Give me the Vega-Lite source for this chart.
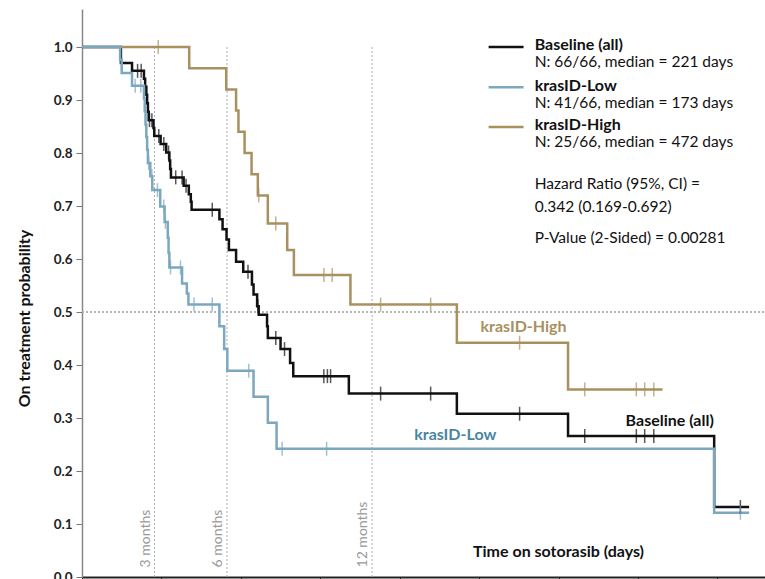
{
  "$schema": "https://vega.github.io/schema/vega-lite/v6.json",
  "width": 683,
  "height": 568,
  "autosize": {"type": "none"},
  "padding": {"left": 82, "top": 9, "right": 0, "bottom": 2},
  "config": {"font": "Lato", "view": {"stroke": null}, "axis": {"grid": false}},
  "datasets": {
    "km": [
      {"g": "Baseline (all)", "t": 0, "s": 1.0},
      {"g": "Baseline (all)", "t": 49, "s": 0.97},
      {"g": "Baseline (all)", "t": 63, "s": 0.955},
      {"g": "Baseline (all)", "t": 78, "s": 0.94},
      {"g": "Baseline (all)", "t": 79.5, "s": 0.925},
      {"g": "Baseline (all)", "t": 81, "s": 0.91},
      {"g": "Baseline (all)", "t": 82, "s": 0.894},
      {"g": "Baseline (all)", "t": 83, "s": 0.878},
      {"g": "Baseline (all)", "t": 84, "s": 0.862},
      {"g": "Baseline (all)", "t": 90, "s": 0.847},
      {"g": "Baseline (all)", "t": 91, "s": 0.832},
      {"g": "Baseline (all)", "t": 99, "s": 0.817},
      {"g": "Baseline (all)", "t": 106, "s": 0.801},
      {"g": "Baseline (all)", "t": 110, "s": 0.786},
      {"g": "Baseline (all)", "t": 111, "s": 0.77},
      {"g": "Baseline (all)", "t": 112, "s": 0.754},
      {"g": "Baseline (all)", "t": 128, "s": 0.738},
      {"g": "Baseline (all)", "t": 134.5, "s": 0.722},
      {"g": "Baseline (all)", "t": 137, "s": 0.708},
      {"g": "Baseline (all)", "t": 138, "s": 0.693},
      {"g": "Baseline (all)", "t": 173, "s": 0.675},
      {"g": "Baseline (all)", "t": 177, "s": 0.656},
      {"g": "Baseline (all)", "t": 182, "s": 0.637},
      {"g": "Baseline (all)", "t": 185, "s": 0.617},
      {"g": "Baseline (all)", "t": 194, "s": 0.595},
      {"g": "Baseline (all)", "t": 203, "s": 0.576},
      {"g": "Baseline (all)", "t": 214, "s": 0.552},
      {"g": "Baseline (all)", "t": 216, "s": 0.533},
      {"g": "Baseline (all)", "t": 220.5, "s": 0.511},
      {"g": "Baseline (all)", "t": 222.5, "s": 0.495},
      {"g": "Baseline (all)", "t": 233, "s": 0.473},
      {"g": "Baseline (all)", "t": 234, "s": 0.451},
      {"g": "Baseline (all)", "t": 250, "s": 0.43},
      {"g": "Baseline (all)", "t": 262, "s": 0.404},
      {"g": "Baseline (all)", "t": 266, "s": 0.379},
      {"g": "Baseline (all)", "t": 336, "s": 0.346},
      {"g": "Baseline (all)", "t": 472, "s": 0.308},
      {"g": "Baseline (all)", "t": 612, "s": 0.266},
      {"g": "Baseline (all)", "t": 796, "s": 0.132},
      {"g": "Baseline (all)", "t": 840, "s": 0.132},
      {"g": "krasID-High", "t": 0, "s": 1.0},
      {"g": "krasID-High", "t": 135, "s": 0.96},
      {"g": "krasID-High", "t": 181.6, "s": 0.92},
      {"g": "krasID-High", "t": 194, "s": 0.88},
      {"g": "krasID-High", "t": 197, "s": 0.84},
      {"g": "krasID-High", "t": 204.7, "s": 0.8},
      {"g": "krasID-High", "t": 213.5, "s": 0.76},
      {"g": "krasID-High", "t": 221.4, "s": 0.72},
      {"g": "krasID-High", "t": 234, "s": 0.667},
      {"g": "krasID-High", "t": 258.4, "s": 0.617},
      {"g": "krasID-High", "t": 266.8, "s": 0.57},
      {"g": "krasID-High", "t": 338, "s": 0.514},
      {"g": "krasID-High", "t": 472, "s": 0.442},
      {"g": "krasID-High", "t": 612, "s": 0.354},
      {"g": "krasID-High", "t": 731, "s": 0.354},
      {"g": "krasID-Low", "t": 0, "s": 1.0},
      {"g": "krasID-Low", "t": 48, "s": 0.976},
      {"g": "krasID-Low", "t": 50, "s": 0.951},
      {"g": "krasID-Low", "t": 63, "s": 0.927},
      {"g": "krasID-Low", "t": 78, "s": 0.903},
      {"g": "krasID-Low", "t": 79, "s": 0.879},
      {"g": "krasID-Low", "t": 80, "s": 0.854},
      {"g": "krasID-Low", "t": 81, "s": 0.83},
      {"g": "krasID-Low", "t": 82, "s": 0.806},
      {"g": "krasID-Low", "t": 83, "s": 0.781},
      {"g": "krasID-Low", "t": 86, "s": 0.756},
      {"g": "krasID-Low", "t": 88.5, "s": 0.73},
      {"g": "krasID-Low", "t": 98.5, "s": 0.699},
      {"g": "krasID-Low", "t": 104, "s": 0.67},
      {"g": "krasID-Low", "t": 108, "s": 0.64},
      {"g": "krasID-Low", "t": 109, "s": 0.612},
      {"g": "krasID-Low", "t": 110, "s": 0.584},
      {"g": "krasID-Low", "t": 126, "s": 0.554},
      {"g": "krasID-Low", "t": 132, "s": 0.535},
      {"g": "krasID-Low", "t": 134, "s": 0.514},
      {"g": "krasID-Low", "t": 173, "s": 0.473},
      {"g": "krasID-Low", "t": 179, "s": 0.43},
      {"g": "krasID-Low", "t": 183, "s": 0.389},
      {"g": "krasID-Low", "t": 216, "s": 0.34},
      {"g": "krasID-Low", "t": 234, "s": 0.291},
      {"g": "krasID-Low", "t": 245, "s": 0.242},
      {"g": "krasID-Low", "t": 796, "s": 0.121},
      {"g": "krasID-Low", "t": 840, "s": 0.121}
    ],
    "cens": [
      {"g": "Baseline (all)", "t": 70, "s": 0.955},
      {"g": "Baseline (all)", "t": 74.5, "s": 0.955},
      {"g": "Baseline (all)", "t": 85, "s": 0.862},
      {"g": "Baseline (all)", "t": 88, "s": 0.862},
      {"g": "Baseline (all)", "t": 96.7, "s": 0.832},
      {"g": "Baseline (all)", "t": 103, "s": 0.817},
      {"g": "Baseline (all)", "t": 109, "s": 0.801},
      {"g": "Baseline (all)", "t": 118, "s": 0.754},
      {"g": "Baseline (all)", "t": 126, "s": 0.754},
      {"g": "Baseline (all)", "t": 131, "s": 0.738},
      {"g": "Baseline (all)", "t": 164, "s": 0.693},
      {"g": "Baseline (all)", "t": 209, "s": 0.576},
      {"g": "Baseline (all)", "t": 221.5, "s": 0.511},
      {"g": "Baseline (all)", "t": 244, "s": 0.451},
      {"g": "Baseline (all)", "t": 255, "s": 0.43},
      {"g": "Baseline (all)", "t": 304.5, "s": 0.379},
      {"g": "Baseline (all)", "t": 309, "s": 0.379},
      {"g": "Baseline (all)", "t": 313, "s": 0.379},
      {"g": "Baseline (all)", "t": 376, "s": 0.346},
      {"g": "Baseline (all)", "t": 439, "s": 0.346},
      {"g": "Baseline (all)", "t": 551, "s": 0.308},
      {"g": "Baseline (all)", "t": 633, "s": 0.266},
      {"g": "Baseline (all)", "t": 698, "s": 0.266},
      {"g": "Baseline (all)", "t": 708.5, "s": 0.266},
      {"g": "Baseline (all)", "t": 720, "s": 0.266},
      {"g": "Baseline (all)", "t": 829, "s": 0.132},
      {"g": "krasID-High", "t": 96, "s": 1.0},
      {"g": "krasID-High", "t": 222.5, "s": 0.72},
      {"g": "krasID-High", "t": 244, "s": 0.667},
      {"g": "krasID-High", "t": 304.6, "s": 0.57},
      {"g": "krasID-High", "t": 315, "s": 0.57},
      {"g": "krasID-High", "t": 376, "s": 0.514},
      {"g": "krasID-High", "t": 439, "s": 0.514},
      {"g": "krasID-High", "t": 551, "s": 0.442},
      {"g": "krasID-High", "t": 633, "s": 0.354},
      {"g": "krasID-High", "t": 698, "s": 0.354},
      {"g": "krasID-High", "t": 708.5, "s": 0.354},
      {"g": "krasID-High", "t": 720, "s": 0.354},
      {"g": "krasID-Low", "t": 67, "s": 0.927},
      {"g": "krasID-Low", "t": 74, "s": 0.927},
      {"g": "krasID-Low", "t": 84, "s": 0.781},
      {"g": "krasID-Low", "t": 88, "s": 0.756},
      {"g": "krasID-Low", "t": 95, "s": 0.73},
      {"g": "krasID-Low", "t": 103, "s": 0.699},
      {"g": "krasID-Low", "t": 105, "s": 0.67},
      {"g": "krasID-Low", "t": 111.5, "s": 0.584},
      {"g": "krasID-Low", "t": 124, "s": 0.584},
      {"g": "krasID-Low", "t": 141, "s": 0.514},
      {"g": "krasID-Low", "t": 164, "s": 0.514},
      {"g": "krasID-Low", "t": 210, "s": 0.389},
      {"g": "krasID-Low", "t": 252, "s": 0.242},
      {"g": "krasID-Low", "t": 308, "s": 0.242},
      {"g": "krasID-Low", "t": 829, "s": 0.121}
    ],
    "months": [
      {"t": 91.3, "label": "3 months"},
      {"t": 182.6, "label": "6 months"},
      {"t": 365.25, "label": "12 months"}
    ],
    "legendLines": [
      {"g": "Baseline (all)", "x1": 512, "x2": 556, "s": 1.0},
      {"g": "krasID-Low", "x1": 512, "x2": 556, "s": 0.924},
      {"g": "krasID-High", "x1": 512, "x2": 556, "s": 0.849}
    ],
    "legendTitles": [
      {"x": 570, "s": 1.003, "text": "Baseline (all)"},
      {"x": 570, "s": 0.927, "text": "krasID-Low"},
      {"x": 570, "s": 0.852, "text": "krasID-High"}
    ],
    "legendNotes": [
      {"x": 570, "s": 0.971, "text": "N: 66/66, median = 221 days"},
      {"x": 570, "s": 0.895, "text": "N: 41/66, median = 173 days"},
      {"x": 570, "s": 0.82, "text": "N: 25/66, median = 472 days"},
      {"x": 570, "s": 0.742, "text": "Hazard Ratio (95%, CI) ="},
      {"x": 570, "s": 0.699, "text": "0.342 (0.169-0.692)"},
      {"x": 570, "s": 0.64, "text": "P-Value (2-Sided) = 0.00281"}
    ],
    "curveLabels": [
      {"x": 556, "s": 0.471, "text": "krasID-High", "c": "#a8915f"},
      {"x": 740, "s": 0.295, "text": "Baseline (all)", "c": "#111111"},
      {"x": 470, "s": 0.267, "text": "krasID-Low", "c": "#4a85a0"},
      {"x": 600, "s": 0.048, "text": "Time on sotorasib (days)", "c": "#111111"}
    ]
  },
  "encoding": {
    "x": {"type": "quantitative", "scale": {"domain": [0, 860], "nice": false}, "axis": {"values": [0, 100, 200, 300, 400, 500, 600, 700, 800], "labels": false, "title": null, "domainColor": "#222222", "domainWidth": 2, "tickColor": "#222222", "tickSize": 8, "tickWidth": 1}},
    "y": {"type": "quantitative", "scale": {"domain": [0, 1.0717], "nice": false}, "axis": {"values": [0, 0.1, 0.2, 0.3, 0.4, 0.5, 0.6, 0.7, 0.8, 0.9, 1.0], "format": ".1f", "title": "On treatment probability", "titleFontSize": 16, "titleFontWeight": "bold", "titleColor": "#111111", "titleX": -50, "titleY": 309, "labelFontSize": 13.5, "labelFontWeight": "bold", "labelColor": "#222222", "labelPadding": 4, "tickSize": 6, "tickColor": "#777777", "domainColor": "#888888", "domainWidth": 1.5}}
  },
  "layer": [
    {
      "data": {"name": "months"},
      "mark": {"type": "rule", "strokeDash": [2, 2], "color": "#aaaaaa", "strokeWidth": 1},
      "encoding": {
        "x": {"field": "t"},
        "y": {"datum": 0},
        "y2": {"datum": 1.0}
      }
    },
    {
      "data": {"name": "months"},
      "mark": {"type": "rule", "strokeDash": [2, 2], "color": "#aaaaaa", "strokeWidth": 1},
      "encoding": {"x": {"datum": 0}, "x2": {"datum": 860}, "y": {"datum": 0.5}}
    },
    {
      "data": {"name": "months"},
      "mark": {"type": "text", "angle": 270, "align": "left", "baseline": "bottom", "color": "#999999", "fontSize": 14, "dy": -2},
      "encoding": {
        "x": {"field": "t"},
        "y": {"datum": 0.018},
        "text": {"field": "label"}
      }
    },
    {
      "data": {"name": "km"},
      "mark": {"type": "line", "interpolate": "step-after", "strokeWidth": 2.5},
      "encoding": {
        "x": {"field": "t"},
        "y": {"field": "s"},
        "color": {"field": "g", "type": "nominal", "scale": {"domain": ["Baseline (all)", "krasID-High", "krasID-Low"], "range": ["#111111", "#a8915f", "#7ba7bf"]}, "legend": null},
        "order": {"field": "t", "type": "quantitative"}
      }
    },
    {
      "data": {"name": "cens"},
      "mark": {"type": "tick", "orient": "vertical", "size": 14, "thickness": 1.5},
      "encoding": {
        "x": {"field": "t"},
        "y": {"field": "s"},
        "color": {"field": "g", "type": "nominal", "legend": null}
      }
    },
    {
      "data": {"name": "legendLines"},
      "mark": {"type": "rule", "strokeWidth": 2.5},
      "encoding": {
        "x": {"field": "x1"},
        "x2": {"field": "x2"},
        "y": {"field": "s"},
        "color": {"field": "g", "type": "nominal", "legend": null}
      }
    },
    {
      "data": {"name": "legendTitles"},
      "mark": {"type": "text", "align": "left", "baseline": "middle", "fontSize": 16, "fontWeight": "bold", "color": "#111111"},
      "encoding": {
        "x": {"field": "x"},
        "y": {"field": "s"},
        "text": {"field": "text"}
      }
    },
    {
      "data": {"name": "legendNotes"},
      "mark": {"type": "text", "align": "left", "baseline": "middle", "fontSize": 15.5, "color": "#111111"},
      "encoding": {
        "x": {"field": "x"},
        "y": {"field": "s"},
        "text": {"field": "text"}
      }
    },
    {
      "data": {"name": "curveLabels"},
      "mark": {"type": "text", "align": "center", "baseline": "middle", "fontSize": 16, "fontWeight": "bold"},
      "encoding": {
        "x": {"field": "x"},
        "y": {"field": "s"},
        "text": {"field": "text"},
        "color": {"field": "c", "type": "nominal", "scale": null, "legend": null}
      }
    }
  ]
}
